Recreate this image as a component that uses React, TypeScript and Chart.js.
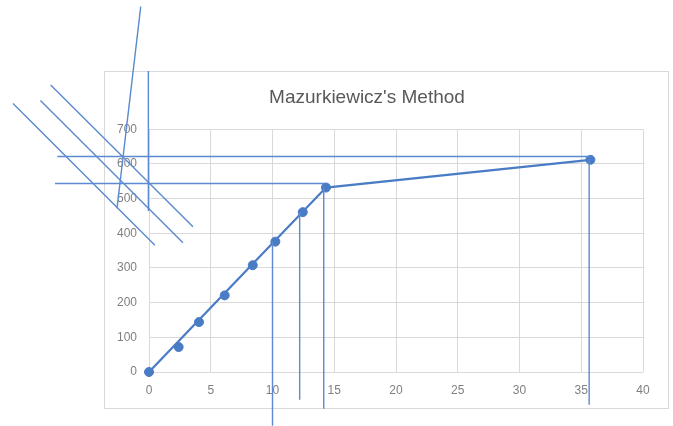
import React, { useEffect, useRef } from "react";
import { Chart, registerables } from "chart.js";

Chart.register(...registerables);

const titleText = "Mazurkiewicz's Method";

// measured points
const pointX = [0, 2.4, 4.05, 6.13, 8.4, 10.23, 12.45, 14.33, 35.74];
const pointY = [0, 72, 144, 221, 308, 376, 461, 532, 612];

// fitted polyline
const fitX = [0, 14.33, 35.74];
const fitY = [0, 532, 612];

// hand-drawn guide lines (data coordinates)
const guideStartX = [-0.67, -7.96, -8.79, -11.01, -7.42, -7.61, -0.05, 10.0, 12.2, 14.15, 35.64];
const guideStartY = [1054, 828, 783, 774.5, 621.4, 543.5, 868, 375.4, 461, 533, 614];
const guideEndX = [-2.59, 3.56, 2.75, 0.48, 35.76, 14.23, -0.05, 10.0, 12.2, 14.15, 35.64];
const guideEndY = [471.8, 418.7, 372.5, 365.9, 621.4, 543.5, 464, -155, -80, -106, -94.7];

const xTicksMin = 0;
const xTicksMax = 40;
const xStep = 5;
const yTicksMin = 0;
const yTicksMax = 700;
const yStep = 100;

const SERIES = "#4a7cc6";
const GUIDE = "#5b8ad0";
const GRID = "#d9d9d9";
const TEXT = "#7f7f7f";

const framePlugin = {
  id: "frame",
  beforeDraw(chart: any) {
    const { ctx, chartArea } = chart;
    ctx.save();
    ctx.fillStyle = "#ffffff";
    ctx.fillRect(0, 0, chart.width, chart.height);
    ctx.strokeStyle = GRID;
    ctx.lineWidth = 1;
    const l = Math.round(chartArea.left - 45) + 0.5;
    const t = Math.round(chartArea.top - 58) + 0.5;
    const r = Math.round(chartArea.right + 25) + 0.5;
    const b = Math.round(chartArea.bottom + 36) + 0.5;
    ctx.strokeRect(l, t, r - l, b - t);
    ctx.restore();
  },
};

export default function App() {
  const ref = useRef<HTMLCanvasElement | null>(null);

  useEffect(() => {
    document.body.style.margin = "0";
    const canvas = ref.current;
    if (!canvas) return;

    const guideSets = guideStartX.map((_, i) => ({
      type: "scatter" as const,
      data: [
        { x: guideStartX[i], y: guideStartY[i] },
        { x: guideEndX[i], y: guideEndY[i] },
      ],
      showLine: true,
      borderColor: GUIDE,
      borderWidth: 1.4,
      pointRadius: 0,
      clip: false as any,
      order: 0,
    }));

    const chart = new Chart(canvas, {
      type: "scatter",
      data: {
        datasets: [
          ...guideSets,
          {
            data: fitX.map((x, i) => ({ x, y: fitY[i] })),
            showLine: true,
            borderColor: SERIES,
            borderWidth: 2.25,
            pointRadius: 0,
            clip: false as any,
            order: 2,
          },
          {
            data: pointX.map((x, i) => ({ x, y: pointY[i] })),
            showLine: false,
            backgroundColor: SERIES,
            borderColor: SERIES,
            pointRadius: 4.5,
            clip: false as any,
            order: 1,
          },
        ] as any,
      },
      options: {
        animation: false,
        responsive: false,
        devicePixelRatio: 1,
        layout: { padding: { left: 91, right: 30, top: 0, bottom: 0 } },
        plugins: {
          legend: { display: false },
          tooltip: { enabled: false },
          title: {
            display: true,
            text: titleText,
            color: "#595959",
            font: { family: "'Liberation Sans', Arial, sans-serif", size: 19, weight: "normal" },
            padding: { top: 86, bottom: 20.5 },
          },
        },
        scales: {
          x: {
            type: "linear",
            min: xTicksMin,
            max: xTicksMax,
            ticks: {
              stepSize: xStep,
              color: TEXT,
              font: { family: "'Liberation Sans', Arial, sans-serif", size: 12 },
              padding: 11,
              maxRotation: 0,
            },
            grid: { color: GRID, drawTicks: false, lineWidth: 1 },
            border: { display: false },
            afterFit: (scale: any) => {
              scale.height = 54;
            },
          },
          y: {
            type: "linear",
            min: yTicksMin,
            max: yTicksMax,
            ticks: {
              stepSize: yStep,
              color: TEXT,
              font: { family: "'Liberation Sans', Arial, sans-serif", size: 12 },
              padding: 12,
            },
            grid: { color: GRID, drawTicks: false, lineWidth: 1 },
            border: { display: false },
            afterFit: (scale: any) => {
              scale.width = 58;
            },
          },
        },
      },
      plugins: [framePlugin],
    });

    return () => chart.destroy();
  }, []);

  return (
    <div style={{ width: 673, height: 426 }}>
      <canvas ref={ref} width={673} height={426} style={{ display: "block", width: 673, height: 426 }} />
    </div>
  );
}
